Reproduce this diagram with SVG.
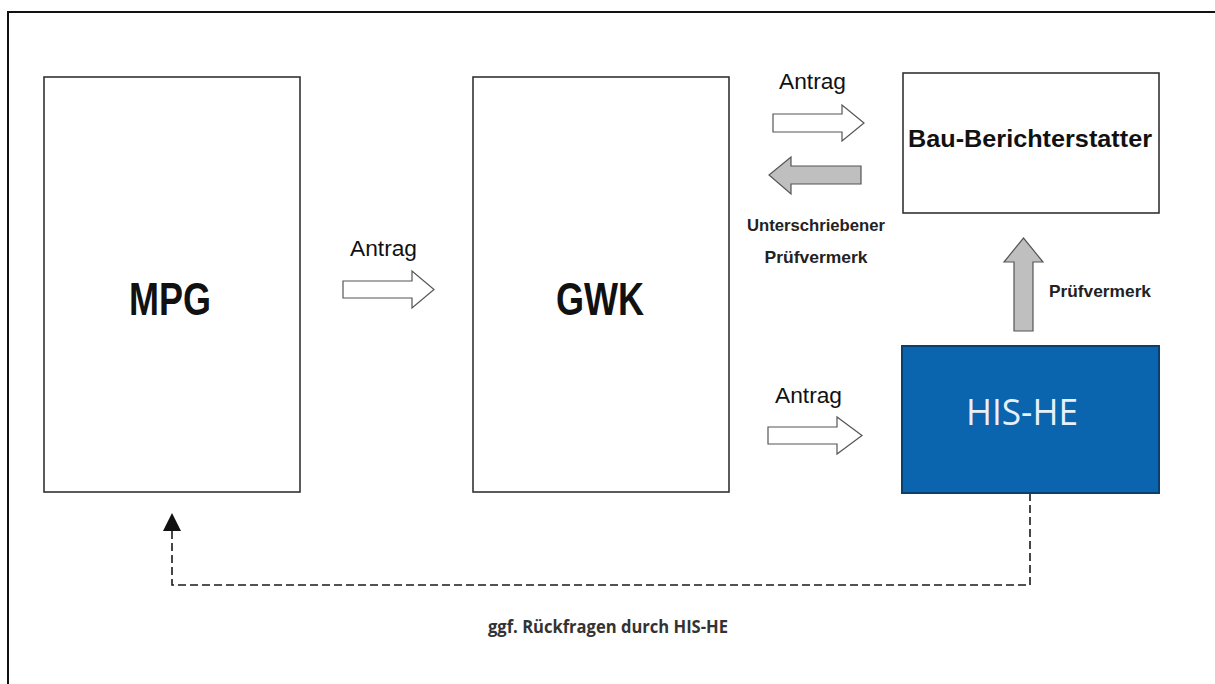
<svg xmlns="http://www.w3.org/2000/svg" width="1215" height="684" viewBox="0 0 1215 684">
<defs>
<style>
.box{fill:#ffffff;stroke:#333333;stroke-width:1.6}
.blue{fill:#0A64AE;stroke:#0B3F6F;stroke-width:2}
.wa{fill:#ffffff;stroke:#555555;stroke-width:1.2;stroke-linejoin:miter}
.ga{fill:#bfbfbf;stroke:#555555;stroke-width:1.2}
.lbl{font-family:"Liberation Sans",Arial,sans-serif;fill:#111111}
.big{font-size:46px;font-weight:bold}
.ant{font-size:22px}
.sm{font-size:17px;font-weight:bold;fill:#222222}
.cal{font-family:"Open Sans","Noto Sans",sans-serif}
.dash{fill:none;stroke:#1a1a1a;stroke-width:1.6;stroke-dasharray:8,4}
</style>
</defs>
<rect width="1215" height="684" fill="#ffffff"/>
<path d="M8,684 V12 H1215" fill="none" stroke="#111111" stroke-width="2"/>

<g id="connectors">
<polygon class="wa" points="343,281 412,281 412,271 434,289.5 412,308 412,298 343,298"/>
<text class="lbl ant" x="350" y="256" textLength="67" lengthAdjust="spacingAndGlyphs">Antrag</text>
<polygon class="wa" points="773,114 842,114 842,105 864,123 842,141 842,132 773,132"/>
<text class="lbl ant" x="779" y="89" textLength="67" lengthAdjust="spacingAndGlyphs">Antrag</text>
<polygon class="ga" points="861,166 791,166 791,157 769,175 791,194 791,184 861,184"/>
<text class="lbl sm" x="816" y="231" text-anchor="middle" textLength="138" lengthAdjust="spacingAndGlyphs">Unterschriebener</text>
<text class="lbl sm" x="816" y="263" text-anchor="middle" textLength="103" lengthAdjust="spacingAndGlyphs">Prüfvermerk</text>
<polygon class="wa" points="768,427 837,427 837,417 862,435.5 837,454 837,444 768,444"/>
<text class="lbl ant" x="775" y="403" textLength="67" lengthAdjust="spacingAndGlyphs">Antrag</text>
<polygon class="ga" points="1014,331 1014,262 1004,262 1023.5,238 1043,262 1033,262 1033,331"/>
<text class="lbl sm" x="1049" y="297" textLength="102" lengthAdjust="spacingAndGlyphs">Prüfvermerk</text>
<path class="dash" d="M1030,493 V585 H172 V530"/>
<polygon points="163,531 181,531 172,513" fill="#111111"/>
<text class="cal" x="488" y="633" font-size="17" font-weight="bold" fill="#333333" textLength="240" lengthAdjust="spacingAndGlyphs">ggf. Rückfragen durch HIS-HE</text>
</g>

<g id="MPG">
<rect class="box" x="44" y="77" width="256" height="415"/>
<text class="lbl big" x="170" y="315" text-anchor="middle" textLength="82" lengthAdjust="spacingAndGlyphs">MPG</text>
</g>
<g id="GWK">
<rect class="box" x="473" y="77" width="256" height="415"/>
<text class="lbl big" x="600" y="315" text-anchor="middle" textLength="88" lengthAdjust="spacingAndGlyphs">GWK</text>
</g>
<g id="Bau-Berichterstatter">
<rect class="box" x="903" y="73" width="256" height="140"/>
<text class="lbl" x="1030" y="147" text-anchor="middle" font-size="23" font-weight="bold" textLength="244" lengthAdjust="spacingAndGlyphs">Bau-Berichterstatter</text>
</g>
<g id="HIS-HE">
<rect class="blue" x="902" y="346" width="257" height="147"/>
<text class="cal" x="1022" y="425" text-anchor="middle" font-size="36" fill="#e8f1fb" textLength="112" lengthAdjust="spacingAndGlyphs">HIS-HE</text>
</g>
</svg>
